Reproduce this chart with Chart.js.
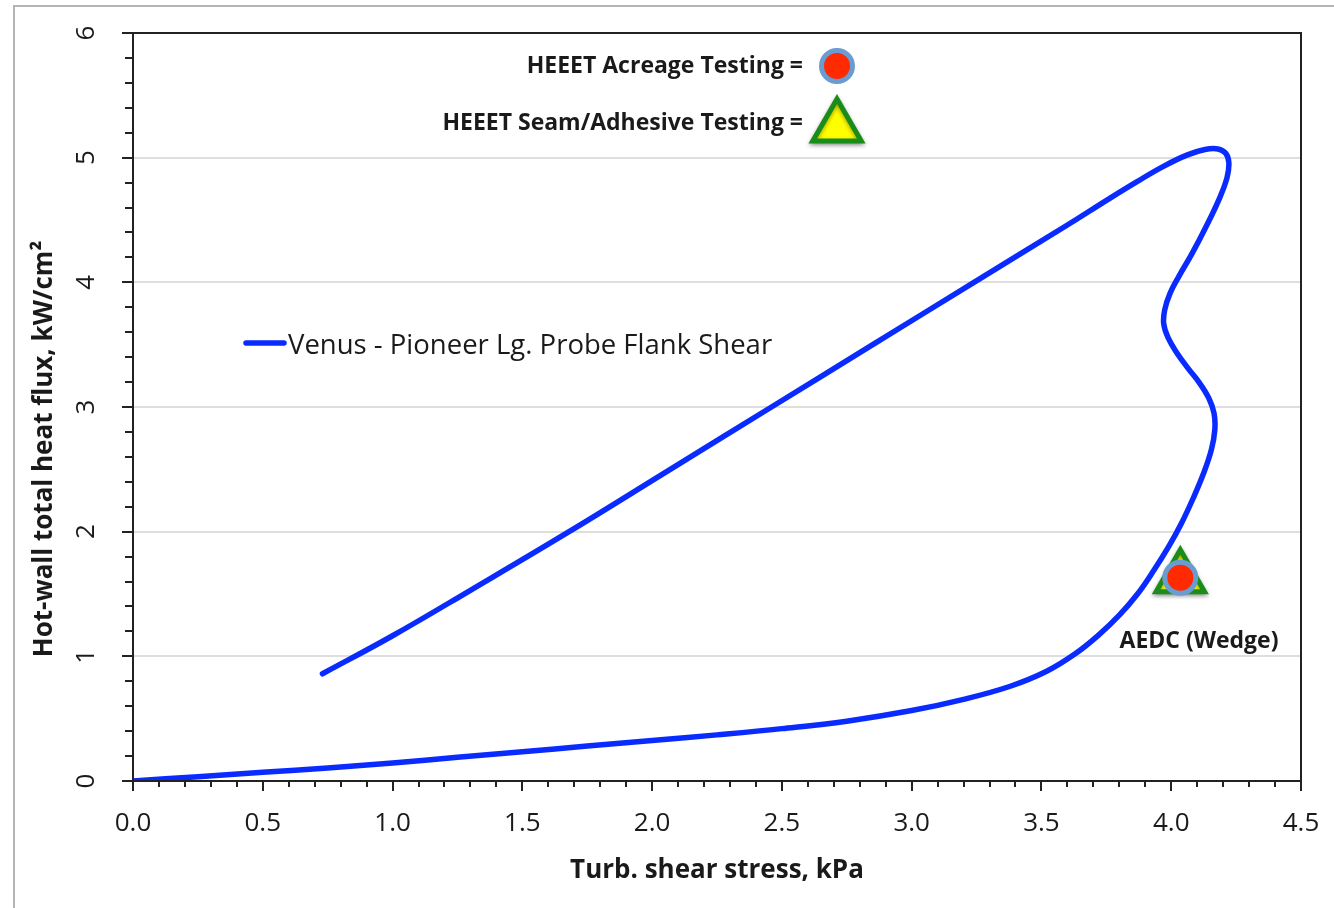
<!DOCTYPE html>
<html>
<head>
<meta charset="utf-8">
<title>Venus - Pioneer Lg. Probe Flank Shear</title>
<script src="https://cdn.jsdelivr.net/npm/chart.js@4/dist/chart.umd.min.js"></script>
<style>
  html, body { margin: 0; padding: 0; background: #ffffff; }
  #wrap { width: 1334px; height: 908px; }
</style>
</head>
<body>
<div id="wrap"><canvas id="chart" width="1334" height="908"></canvas></div>
<script>
// Flank shear trajectory: turbulent shear stress (kPa) vs hot-wall total heat flux (kW/cm²)
const shearKPa = [
  0.00, 0.25, 0.50, 0.75, 1.00, 1.25, 1.50, 1.75, 2.00, 2.25, 2.50, 2.75,
  3.00, 3.20, 3.38, 3.52, 3.63, 3.72, 3.80, 3.87, 3.93, 3.99, 4.04, 4.085,
  4.125, 4.155, 4.168, 4.165, 4.145, 4.11, 4.065, 4.02, 3.987, 3.971, 3.975, 3.995,
  4.03, 4.08, 4.135, 4.185, 4.215, 4.222, 4.21, 4.18, 4.13, 4.06, 3.97, 3.87,
  3.76, 3.60, 3.24, 2.85, 2.46, 2.07, 1.68, 1.30, 1.00, 0.73
];
const heatFlux = [
  0.00, 0.035, 0.07, 0.105, 0.145, 0.19, 0.235, 0.28, 0.325, 0.37, 0.42, 0.48,
  0.565, 0.655, 0.76, 0.88, 1.02, 1.17, 1.33, 1.50, 1.68, 1.88, 2.07, 2.27,
  2.47, 2.66, 2.82, 2.95, 3.07, 3.19, 3.31, 3.44, 3.56, 3.67, 3.78, 3.91,
  4.05, 4.23, 4.45, 4.67, 4.84, 4.96, 5.035, 5.07, 5.065, 5.02, 4.93, 4.81,
  4.67, 4.46, 4.00, 3.50, 3.00, 2.50, 2.00, 1.53, 1.165, 0.86
];

// AEDC wedge test condition (acreage and seam/adhesive)
const aedcShear = [4.035];
const aedcFlux = [1.63];

// Axis ticks
const xTickValues = [0, 0.5, 1, 1.5, 2, 2.5, 3, 3.5, 4, 4.5];
const yTickValues = [0, 1, 2, 3, 4, 5, 6];
const yTickLabels = ['0', '1', '2', '3', '4', '5', '6'];

const seriesName = 'Venus - Pioneer Lg. Probe Flank Shear';
const acreageKey = 'HEEET Acreage Testing =';
const seamKey = 'HEEET Seam/Adhesive Testing =';
const aedcLabel = 'AEDC (Wedge)';
const xTitle = 'Turb. shear stress, kPa';
const yTitle = 'Hot-wall total heat flux, kW/cm\u00B2';

const FONT = '"Open Sans", "Noto Sans", sans-serif';
const INK = '#1a1a1a';
const CURVE = '#0a2bff';
const RED = '#ff2a00', RING = '#6a9bd1';
const YELLOW = '#ffff00', GREEN = '#1a8c1a';

function toPoints(xs, ys) { return xs.map((x, i) => ({ x: x, y: ys[i] })); }

function drawTriangle(ctx, x, y, r) {
  ctx.beginPath();
  ctx.moveTo(x, y - r);
  ctx.lineTo(x + r * Math.sin(2 * Math.PI / 3), y - r * Math.cos(2 * Math.PI / 3));
  ctx.lineTo(x + r * Math.sin(4 * Math.PI / 3), y - r * Math.cos(4 * Math.PI / 3));
  ctx.closePath();
}

const decor = {
  id: 'decor',
  beforeDraw(chart) {
    const ctx = chart.ctx;
    ctx.save();
    ctx.fillStyle = '#ffffff';
    ctx.fillRect(0, 0, chart.width, chart.height);
    // outer chart frame
    ctx.strokeStyle = '#b4b4b4';
    ctx.lineWidth = 2;
    ctx.beginPath();
    ctx.moveTo(14, chart.height + 2);
    ctx.lineTo(14, 6);
    ctx.lineTo(chart.width + 2, 6);
    ctx.stroke();
    ctx.restore();
  },
  beforeDatasetDraw(chart, args) {
    const ds = chart.data.datasets[args.index];
    chart.ctx.save();
    if (ds.pointStyle === 'triangle') {
      chart.ctx.shadowColor = 'rgba(0,0,0,0.35)';
      chart.ctx.shadowBlur = 4;
      chart.ctx.shadowOffsetY = 2;
    }
  },
  afterDatasetDraw(chart) {
    chart.ctx.restore();
  },
  afterDraw(chart) {
    const ctx = chart.ctx;
    const a = chart.chartArea;
    const xs = chart.scales.x, ys = chart.scales.y;
    ctx.save();

    // plot frame
    ctx.strokeStyle = '#222222';
    ctx.lineWidth = 2;
    ctx.strokeRect(a.left, a.top, a.right - a.left, a.bottom - a.top);

    // tick marks (outside)
    ctx.lineWidth = 2;
    ctx.beginPath();
    for (let i = 0; i <= 45; i++) {
      const px = Math.round(xs.getPixelForValue(i / 10));
      const len = i % 5 === 0 ? 10 : 6;
      ctx.moveTo(px, a.bottom);
      ctx.lineTo(px, a.bottom + len);
    }
    for (let i = 0; i <= 30; i++) {
      const py = Math.round(ys.getPixelForValue(i / 5));
      const len = i % 5 === 0 ? 11 : 8;
      ctx.moveTo(a.left, py);
      ctx.lineTo(a.left - len, py);
    }
    ctx.stroke();

    // y tick labels, rotated
    ctx.fillStyle = INK;
    ctx.font = '26px ' + FONT;
    ctx.textAlign = 'center';
    ctx.textBaseline = 'middle';
    yTickValues.forEach((v, i) => {
      ctx.save();
      ctx.translate(87, ys.getPixelForValue(v));
      ctx.rotate(-Math.PI / 2);
      ctx.fillText(yTickLabels[i], 0, 0);
      ctx.restore();
    });

    // y axis title
    ctx.save();
    ctx.font = 'bold 26px ' + FONT;
    ctx.translate(45, 449);
    ctx.rotate(-Math.PI / 2);
    ctx.fillText(yTitle, 0, 0);
    ctx.restore();

    // series legend
    ctx.strokeStyle = CURVE;
    ctx.lineWidth = 5.5;
    ctx.lineCap = 'round';
    ctx.beginPath();
    ctx.moveTo(246, 343);
    ctx.lineTo(284, 343);
    ctx.stroke();
    ctx.font = '27.5px ' + FONT;
    ctx.textAlign = 'left';
    ctx.fillText(seriesName, 288, 346);

    // marker key
    ctx.font = 'bold 23px ' + FONT;
    ctx.textAlign = 'right';
    ctx.fillText(acreageKey, 803, 66);
    ctx.fillText(seamKey, 803, 123);

    ctx.beginPath();
    ctx.arc(837, 66, 15.5, 0, Math.PI * 2);
    ctx.fillStyle = RED;
    ctx.fill();
    ctx.lineWidth = 5;
    ctx.strokeStyle = RING;
    ctx.stroke();

    ctx.save();
    ctx.shadowColor = 'rgba(0,0,0,0.35)';
    ctx.shadowBlur = 4;
    ctx.shadowOffsetY = 2;
    drawTriangle(ctx, 837, 127, 28);
    ctx.fillStyle = YELLOW;
    ctx.fill();
    ctx.lineWidth = 5;
    ctx.lineCap = 'butt';
    ctx.strokeStyle = GREEN;
    ctx.stroke();
    ctx.restore();

    // test-point annotation
    ctx.fillStyle = INK;
    ctx.font = 'bold 23px ' + FONT;
    ctx.textAlign = 'center';
    ctx.fillText(aedcLabel, 1199, 641);

    ctx.restore();
  }
};

new Chart(document.getElementById('chart'), {
  type: 'scatter',
  data: {
    datasets: [
      {
        label: 'HEEET Acreage Testing',
        data: toPoints(aedcShear, aedcFlux),
        pointStyle: 'circle',
        pointRadius: 15.5,
        pointBorderWidth: 5,
        pointBackgroundColor: RED,
        pointBorderColor: RING,
        showLine: false
      },
      {
        label: 'HEEET Seam/Adhesive Testing',
        data: toPoints(aedcShear, aedcFlux),
        pointStyle: 'triangle',
        pointRadius: 28,
        pointBorderWidth: 5,
        pointBackgroundColor: YELLOW,
        pointBorderColor: GREEN,
        showLine: false
      },
      {
        label: seriesName,
        data: toPoints(shearKPa, heatFlux),
        showLine: true,
        borderColor: CURVE,
        borderWidth: 5.5,
        borderCapStyle: 'round',
        borderJoinStyle: 'round',
        tension: 0.4,
        pointRadius: 0,
        fill: false
      }
    ]
  },
  options: {
    responsive: false,
    devicePixelRatio: 1,
    animation: false,
    events: [],
    layout: { padding: { left: 0, top: 32, right: 29, bottom: 0 } },
    plugins: {
      legend: { display: false },
      tooltip: { enabled: false },
      title: { display: false }
    },
    scales: {
      x: {
        type: 'linear',
        min: 0,
        max: 4.5,
        afterBuildTicks: (scale) => { scale.ticks = xTickValues.map(v => ({ value: v })); },
        afterFit: (scale) => {
          scale.height = 127;
          scale.paddingLeft = 0;
          scale.paddingRight = 0;
        },
        ticks: {
          color: INK,
          font: { family: FONT, size: 26 },
          padding: 27,
          maxRotation: 0,
          callback: (v) => Number(v).toFixed(1)
        },
        grid: { display: true, drawOnChartArea: false, drawTicks: false },
        border: { display: true, color: '#222222', width: 2 },
        title: {
          display: true,
          text: xTitle,
          color: INK,
          font: { family: FONT, size: 26, weight: 'bold' },
          padding: { top: 0, bottom: 22 }
        }
      },
      y: {
        type: 'linear',
        min: 0,
        max: 6,
        afterBuildTicks: (scale) => { scale.ticks = yTickValues.map(v => ({ value: v })); },
        afterFit: (scale) => {
          scale.width = 133;
          scale.paddingTop = 0;
          scale.paddingBottom = 0;
        },
        ticks: { display: false },
        grid: {
          drawTicks: false,
          lineWidth: 2,
          color: (c) => (c.tick && c.tick.value > 0 && c.tick.value < 6) ? '#dedede' : 'rgba(0,0,0,0)'
        },
        border: { display: true, color: '#222222', width: 2 }
      }
    }
  },
  plugins: [decor]
});
</script>
</body>
</html>
